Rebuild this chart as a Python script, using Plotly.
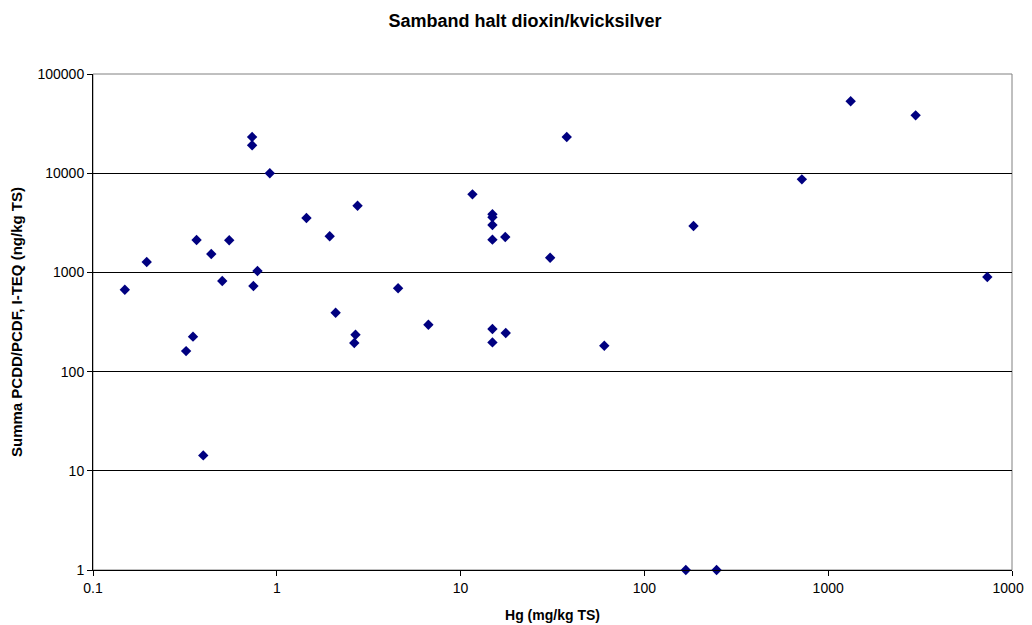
import plotly.graph_objects as go

# Hg (mg/kg TS)
hg = [0.149, 0.196, 0.366, 0.44, 0.551, 0.505, 0.785, 0.746, 0.734, 0.734,
      0.916, 1.45, 1.94, 2.75, 11.6, 2.09, 2.68, 2.64, 4.57, 6.68,
      0.35, 0.321, 0.398, 37.8, 14.9, 14.9, 14.9, 14.9, 17.5, 30.7,
      185, 14.9, 14.9, 17.6, 60.5, 1325, 2990, 719, 7340, 168, 247]
# Summa PCDD/PCDF, I-TEQ (ng/kg TS)
teq = [669, 1273, 2122, 1532, 2106, 819, 1033, 729, 23170, 19100,
       9980, 3533, 2311, 4700, 6120, 392, 235, 194, 691, 297,
       225, 161, 14.3, 23170, 3853, 3590, 3005, 2138, 2275, 1407,
       2937, 269, 197, 245, 182, 53200, 38280, 8670, 899, 1, 1]

x_tickvals = [0.1, 1, 10, 100, 1000, 10000]
x_ticktext = ["0.1", "1", "10", "100", "1000", "10000"]
y_tickvals = [1, 10, 100, 1000, 10000, 100000]
y_ticktext = ["1", "10", "100", "1000", "10000", "100000"]

FONT = "Liberation Sans, Arial, sans-serif"
W, H = 1024, 617

fig = go.Figure()
fig.add_trace(go.Scatter(
    x=hg, y=teq, mode="markers",
    marker=dict(symbol="diamond", size=8, color="#000080",
                line=dict(width=0)),
    showlegend=False, cliponaxis=False,
))

fig.update_layout(
    width=W, height=H,
    paper_bgcolor="white", plot_bgcolor="white",
    margin=dict(l=85, r=20, t=66, b=55, pad=0, autoexpand=False),
    title=dict(text="<b>Samband halt dioxin/kvicksilver</b>",
               x=(525 - 8) / W, xref="container", xanchor="center",
               y=1 - 13 / H, yref="container", yanchor="middle",
               font=dict(family=FONT, size=18, color="black")),
    font=dict(family=FONT, size=14, color="black"),
    xaxis=dict(
        type="log", range=[-1, 4], automargin=False,
        tickvals=x_tickvals, ticktext=x_ticktext,
        showgrid=False, zeroline=False,
        showline=True, linecolor="black", linewidth=1,
        ticks="outside", ticklen=5, tickcolor="black",
        tickfont=dict(family=FONT, size=14, color="black"),
        title=dict(text="<b>Hg (mg/kg TS)</b>",
                   font=dict(family=FONT, size=14, color="black")),
    ),
    yaxis=dict(
        type="log", range=[0, 5], automargin=False,
        tickvals=y_tickvals, ticktext=y_ticktext,
        showgrid=True, gridcolor="black", gridwidth=1,
        zeroline=False,
        showline=True, linecolor="black", linewidth=1,
        ticks="outside", ticklen=5, tickcolor="black",
        tickfont=dict(family=FONT, size=14, color="black"),
        title=dict(text="<b>Summa PCDD/PCDF, I-TEQ (ng/kg TS)</b>",
                   font=dict(family=FONT, size=15, color="black")),
    ),
    shapes=[dict(type="rect", xref="paper", yref="paper",
                 x0=0, y0=0, x1=1, y1=1,
                 line=dict(color="#808080", width=1), layer="below")],
)

fig.write_html("out.html")
